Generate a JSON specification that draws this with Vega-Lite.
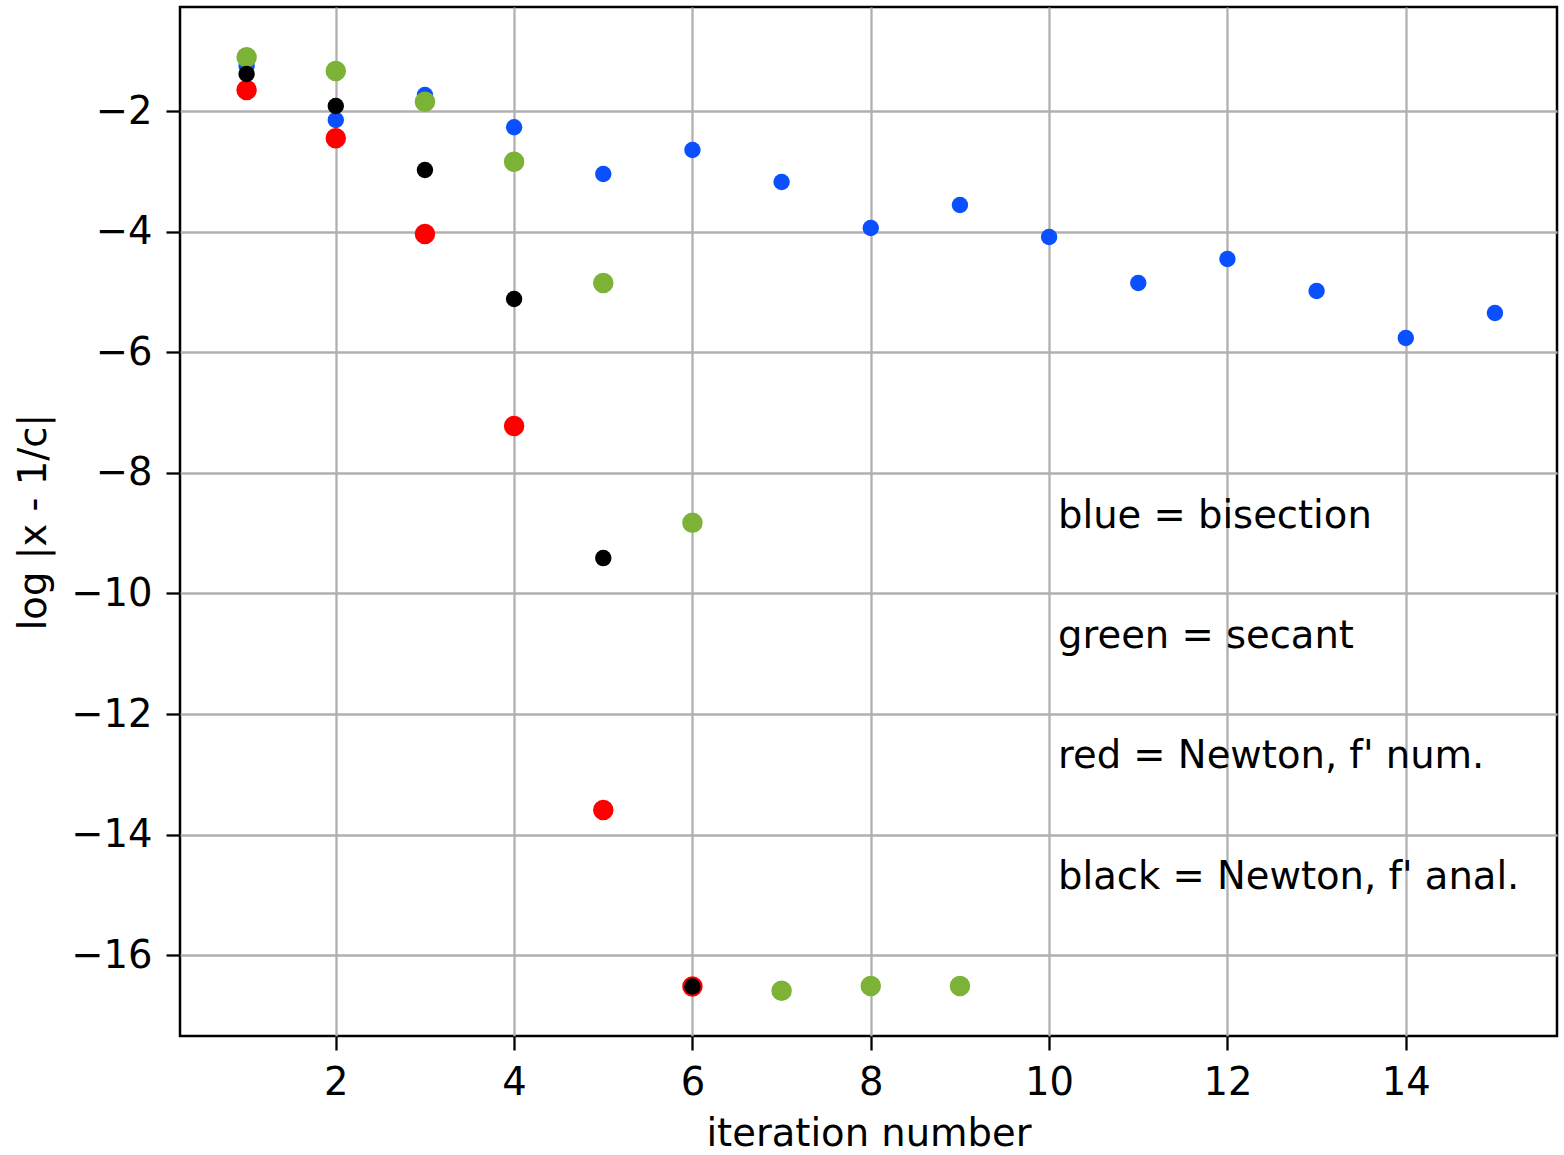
{
  "$schema": "https://vega.github.io/schema/vega-lite/v6.json",
  "width": 1377,
  "height": 1029,
  "autosize": {"type": "none"},
  "padding": {"left": 180, "top": 7, "right": 7, "bottom": 119},
  "background": "white",
  "config": {
    "font": "DejaVu Sans",
    "view": {"stroke": "black", "strokeWidth": 2.5},
    "axis": {
      "domain": false,
      "grid": true,
      "gridColor": "#b0b0b0",
      "gridWidth": 2.3,
      "gridOpacity": 1,
      "ticks": true,
      "tickColor": "black",
      "tickWidth": 2.3,
      "tickSize": 14,
      "labelFont": "DejaVu Sans",
      "labelFontSize": 38.5,
      "labelColor": "black",
      "labelPadding": 14,
      "labelFlush": false,
      "labelOverlap": false,
      "titleFont": "DejaVu Sans",
      "titleFontSize": 38.5,
      "titleFontWeight": "normal",
      "titleColor": "black"
    }
  },
  "datasets": {
    "pts": [
      {"iter": 1, "err": -1.253, "method": "blue"},
      {"iter": 2, "err": -2.149, "method": "blue"},
      {"iter": 3, "err": -1.735, "method": "blue"},
      {"iter": 4, "err": -2.27, "method": "blue"},
      {"iter": 5, "err": -3.045, "method": "blue"},
      {"iter": 6, "err": -2.647, "method": "blue"},
      {"iter": 7, "err": -3.178, "method": "blue"},
      {"iter": 8, "err": -3.94, "method": "blue"},
      {"iter": 9, "err": -3.559, "method": "blue"},
      {"iter": 10, "err": -4.09, "method": "blue"},
      {"iter": 11, "err": -4.853, "method": "blue"},
      {"iter": 12, "err": -4.455, "method": "blue"},
      {"iter": 13, "err": -4.985, "method": "blue"},
      {"iter": 14, "err": -5.765, "method": "blue"},
      {"iter": 15, "err": -5.35, "method": "blue"},
      {"iter": 1, "err": -1.109, "method": "green"},
      {"iter": 2, "err": -1.336, "method": "green"},
      {"iter": 3, "err": -1.845, "method": "green"},
      {"iter": 4, "err": -2.84, "method": "green"},
      {"iter": 5, "err": -4.853, "method": "green"},
      {"iter": 6, "err": -8.83, "method": "green"},
      {"iter": 7, "err": -16.59, "method": "green"},
      {"iter": 8, "err": -16.51, "method": "green"},
      {"iter": 9, "err": -16.51, "method": "green"},
      {"iter": 1, "err": -1.652, "method": "red"},
      {"iter": 2, "err": -2.453, "method": "red"},
      {"iter": 3, "err": -4.04, "method": "red"},
      {"iter": 4, "err": -7.225, "method": "red"},
      {"iter": 5, "err": -13.59, "method": "red"},
      {"iter": 6, "err": -16.52, "method": "red"},
      {"iter": 1, "err": -1.386, "method": "black"},
      {"iter": 2, "err": -1.917, "method": "black"},
      {"iter": 3, "err": -2.978, "method": "black"},
      {"iter": 4, "err": -5.118, "method": "black"},
      {"iter": 5, "err": -9.414, "method": "black"},
      {"iter": 6, "err": -16.52, "method": "black"}
    ],
    "notes": [
      {"iter": 10.1, "err": -8.92, "label": "blue = bisection"},
      {"iter": 10.1, "err": -10.9, "label": "green = secant"},
      {"iter": 10.1, "err": -12.9, "label": "red = Newton, f' num."},
      {"iter": 10.1, "err": -14.9, "label": "black = Newton, f' anal."}
    ]
  },
  "layer": [
    {
      "data": {"name": "pts"},
      "mark": {"type": "point", "filled": true, "shape": "circle", "opacity": 1},
      "encoding": {
        "x": {
          "field": "iter", "type": "quantitative",
          "scale": {"domain": [0.253, 15.696], "nice": false, "zero": false},
          "axis": {"values": [2, 4, 6, 8, 10, 12, 14], "format": "d", "title": "iteration number", "titlePadding": 14}
        },
        "y": {
          "field": "err", "type": "quantitative",
          "scale": {"domain": [-17.34, -0.275], "nice": false, "zero": false},
          "axis": {"values": [-16, -14, -12, -10, -8, -6, -4, -2], "format": "d", "title": "log |x - 1/c|", "titlePadding": 17}
        },
        "color": {
          "field": "method", "type": "nominal", "legend": null,
          "scale": {"domain": ["blue", "green", "red", "black"], "range": ["#0a50ff", "#7cb236", "#ff0000", "#000000"]}
        },
        "size": {
          "field": "method", "type": "nominal", "legend": null,
          "scale": {"type": "ordinal", "domain": ["blue", "green", "red", "black"], "range": [270, 420, 420, 270]}
        }
      }
    },
    {
      "data": {"name": "notes"},
      "mark": {"type": "text", "align": "left", "baseline": "alphabetic", "font": "DejaVu Sans", "fontSize": 38.5, "color": "black"},
      "encoding": {
        "x": {"field": "iter", "type": "quantitative"},
        "y": {"field": "err", "type": "quantitative"},
        "text": {"field": "label", "type": "nominal"}
      }
    }
  ]
}
